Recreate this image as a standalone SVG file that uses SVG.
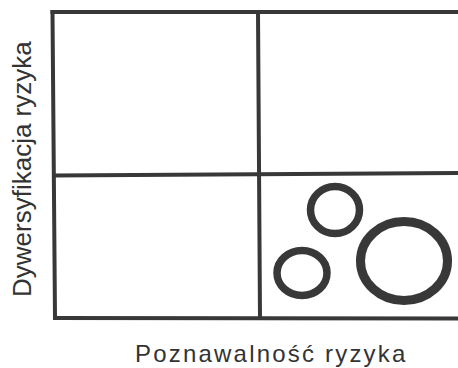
<svg xmlns="http://www.w3.org/2000/svg" width="458" height="368" viewBox="0 0 458 368">
<style>
.ln{stroke:#383838;stroke-width:4;fill:none;stroke-linecap:square}
.c{stroke:#383838;fill:none}
.t{font-family:"Liberation Sans",Arial,sans-serif;fill:#333}
</style>
<rect width="458" height="368" fill="#fff"/>
<g id="grid">
<line class="ln" x1="52.5" y1="12" x2="460" y2="12"/>
<line class="ln" x1="52.5" y1="12" x2="55" y2="318"/>
<line class="ln" x1="55" y1="318" x2="460" y2="318.5"/>
<line class="ln" x1="258" y1="12" x2="260" y2="318"/>
<line class="ln" x1="54" y1="175.5" x2="460" y2="173"/>
</g>
<g id="circles">
<ellipse id="c1" class="c" cx="335" cy="210" rx="24.5" ry="23.5" stroke-width="7.5"/>
<ellipse id="c2" class="c" cx="302" cy="273" rx="25" ry="22.5" stroke-width="7.5"/>
<ellipse id="c3" class="c" cx="404" cy="261" rx="43.5" ry="39.5" stroke-width="9"/>
</g>
<text id="xlabel" class="t" x="135" y="362" font-size="24" letter-spacing="2.2">Poznawalność ryzyka</text>
<text id="ylabel" class="t" font-size="26" transform="translate(31,297) rotate(-90)">Dywersyfikacja ryzyka</text>
</svg>
